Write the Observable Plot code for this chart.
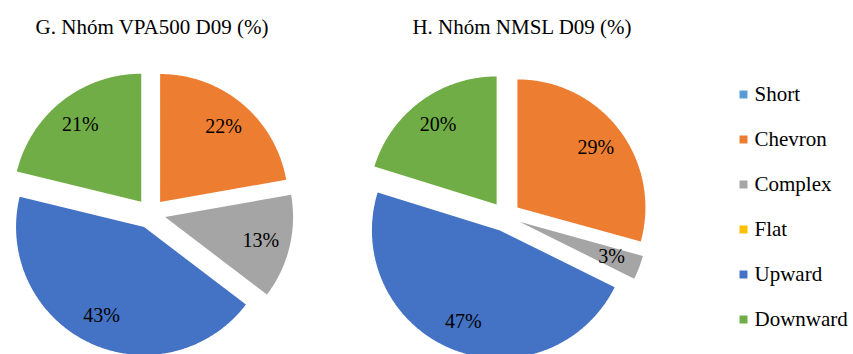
<!DOCTYPE html>
<html>
<head>
<meta charset="utf-8">
<script src="https://cdn.jsdelivr.net/npm/d3@7"></script>
<script src="https://cdn.jsdelivr.net/npm/@observablehq/plot@0.6"></script>
<style>
  html, body { margin: 0; padding: 0; background: #fff; }
  #chart { position: relative; width: 853px; height: 354px; overflow: hidden;
           font-family: "Liberation Serif", "Times New Roman", serif; color: #000; }
  .title { position: absolute; top: 15px; font-size: 21px; line-height: 24px;
           white-space: nowrap; transform: translateX(-50%); }
  .panel { position: absolute; }
</style>
</head>
<body>
<div id="chart"></div>
<script>
// Pattern categories, in pie order (clockwise from 12 o'clock)
const categories = ["Short", "Chevron", "Complex", "Flat", "Upward", "Downward"];
const colors = ["#5B9BD5", "#ED7D31", "#A5A5A5", "#FFC000", "#4472C4", "#70AD47"];

// Share of each pattern (%), per group
const vpa500 = [0, 22, 13, 0, 43, 21];
const nmsl = [0, 29, 3, 0, 47, 20];

const titles = ["G. Nhóm VPA500 D09 (%)", "H. Nhóm NMSL D09 (%)"];

const serif = "Liberation Serif";
const color = {domain: categories, range: colors};

// Pie geometry in radius units: explode distance and label distance
const EXPLODE = 0.117;
const LABEL_R = 0.77;

function pieData(values) {
  const arcs = d3.pie().sort(null)(values);
  const outline = [];
  const labels = [];
  arcs.forEach((a, i) => {
    if (!a.value) return;
    const mid = (a.startAngle + a.endAngle) / 2;
    const ox = EXPLODE * Math.sin(mid), oy = EXPLODE * Math.cos(mid);
    const name = categories[i];
    outline.push({name, x: ox, y: oy});
    const n = Math.max(2, Math.ceil((a.endAngle - a.startAngle) / 0.01));
    for (let k = 0; k <= n; ++k) {
      const t = a.startAngle + (a.endAngle - a.startAngle) * k / n;
      outline.push({name, x: ox + Math.sin(t), y: oy + Math.cos(t)});
    }
    labels.push({
      name,
      text: `${a.value}%`,
      x: ox + LABEL_R * Math.sin(mid),
      y: oy + LABEL_R * Math.cos(mid)
    });
  });
  return {outline, labels};
}

const R = 128;            // pie radius in px
const W = 310, H = 314;   // pie panel size
const CX = 150, CY = 173; // pie centre inside panel

function pie(values) {
  const {outline, labels} = pieData(values);
  return Plot.plot({
    width: W,
    height: H,
    margin: 0,
    x: {domain: [-CX / R, (W - CX) / R], axis: null},
    y: {domain: [-(H - CY) / R, CY / R], axis: null},
    color,
    style: {background: "transparent", fontFamily: serif},
    marks: [
      Plot.line(outline, {x: "x", y: "y", z: "name", fill: "name", stroke: null, curve: "linear-closed"}),
      Plot.text(labels, {x: "x", y: "y", text: "text", fontSize: 20, fontFamily: serif, fill: "#000"})
    ]
  });
}

const chart = document.getElementById("chart");

function place(node, left, top) {
  node.classList.add("panel");
  node.style.left = left + "px";
  node.style.top = top + "px";
  chart.appendChild(node);
}

function title(text, centerX) {
  const d = document.createElement("div");
  d.className = "title";
  d.style.left = centerX + "px";
  d.textContent = text;
  chart.appendChild(d);
}

place(pie(vpa500), 0, 40);
place(pie(nmsl), 355, 43);
title(titles[0], 152);
title(titles[1], 522);

// Legend: one swatch per category, stacked vertically
const legend = Plot.plot({
  width: 118,
  height: 272,
  margin: 0,
  y: {type: "point", domain: categories, range: [23, 250], padding: 0, axis: null},
  color,
  style: {background: "transparent", fontFamily: serif, overflow: "visible"},
  marks: [
    Plot.dot(categories, {y: d => d, fill: d => d, symbol: "square", r: 4.5, frameAnchor: "left", dx: 8}),
    Plot.text(categories, {y: d => d, text: d => d, frameAnchor: "left", dx: 19, textAnchor: "start",
                           fontSize: 21, fontFamily: serif, fill: "#000"})
  ]
});
place(legend, 735, 70);
</script>
</body>
</html>
